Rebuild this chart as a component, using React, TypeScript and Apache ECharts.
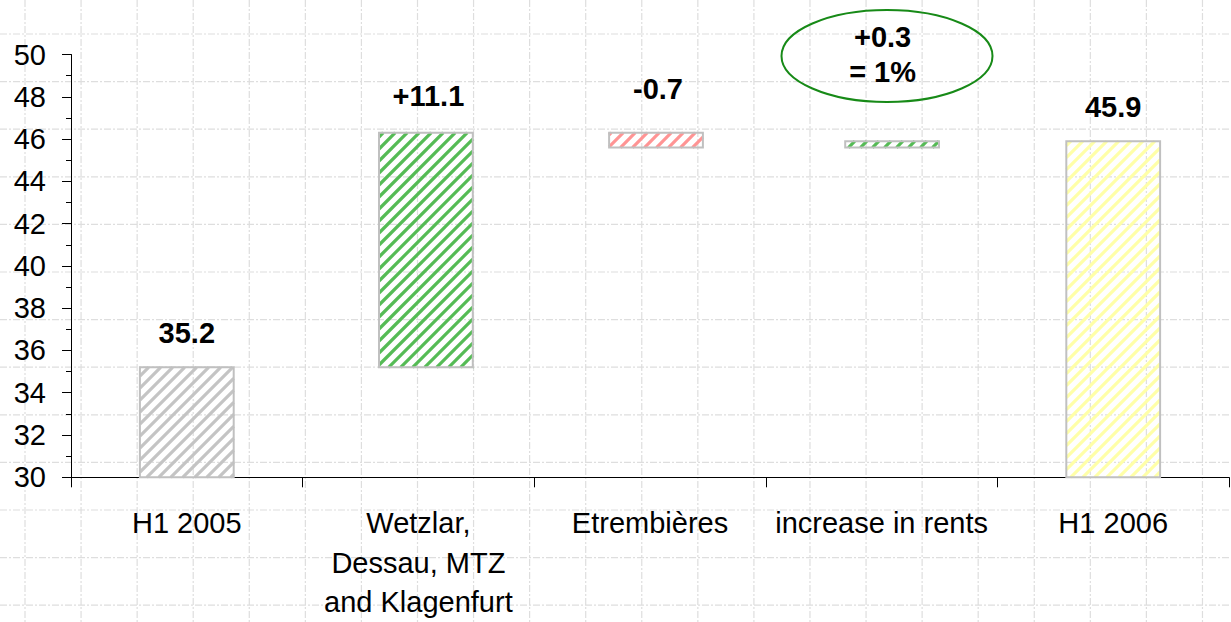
import React, { useEffect, useRef } from 'react';
import * as echarts from 'echarts';

const categories = ['H1 2005', 'Wetzlar,\nDessau, MTZ\nand Klagenfurt', 'Etrembières', 'increase in rents', 'H1 2006'];
const baseValues = [0, 35.2, 45.6, 45.6, 0];
const deltaValues = [35.2, 11.1, 0.7, 0.3, 45.9];
const labelTexts = ['35.2', '+11.1', '-0.7', '+0.3\n= 1%', '45.9'];

// styles
const stripeColors = ['#c4c4c4', '#55bb55', '#ff9494', '#55bb55', '#ffffa8'];
const labelDistances = [17, 19, 26, 51.5, 17];
const barShift = [0, 7.5, 6, 10.5, 0];
const labelShift = [0, 10, 8, 1, 0];

const FONT = '"Liberation Sans", Arial, sans-serif';
const STRIPE_PERIOD = 12;
const STRIPE_WIDTH = 3.2;

export default function App() {
  const ref = useRef<HTMLDivElement>(null);
  useEffect(() => {
    if (!ref.current) return;
    const chart = echarts.init(ref.current, undefined, { renderer: 'svg' });

    const sheetLines: any[] = [];
    for (let k = 0; k < 23; k++) {
      const x = 25 + 56.07 * k;
      sheetLines.push({
        type: 'line', z: -10, silent: true,
        shape: { x1: x, y1: 0, x2: x, y2: 622 },
        style: { stroke: '#dedede', lineWidth: 1.2, lineDash: [7, 2, 2, 2] },
      });
    }
    for (let k = 0; k < 13; k++) {
      const y = 34 + 47.6 * k;
      sheetLines.push({
        type: 'line', z: -10, silent: true,
        shape: { x1: 0, y1: y, x2: 1231, y2: y },
        style: { stroke: '#dedede', lineWidth: 1.2, lineDash: [7, 2, 2, 2] },
      });
    }

    const barData = categories.map((c, i) => [i, baseValues[i], baseValues[i] + deltaValues[i]]);

    const renderItem = (params: any, api: any) => {
      const i = api.value(0);
      const lo = api.value(1);
      const hi = api.value(2);
      const cs = params.coordSys;
      const pHi = api.coord([i, hi]);
      const pLo = api.coord([i, lo]);
      const yHi = pHi[1];
      const yLo = Math.min(pLo[1], cs.y + cs.height);
      const w = api.size([1, 0])[0] * 0.405;
      const cx = pHi[0] + barShift[i];
      const x0 = cx - w / 2;
      const x1 = cx + w / 2;
      const children: any[] = [];
      const cStart = Math.ceil((x0 + yHi) / STRIPE_PERIOD) * STRIPE_PERIOD;
      for (let c = cStart; c <= x1 + yLo; c += STRIPE_PERIOD) {
        const xa = Math.max(x0, c - yLo);
        const xb = Math.min(x1, c - yHi);
        if (xb > xa) {
          children.push({
            type: 'line',
            shape: { x1: xa, y1: c - xa, x2: xb, y2: c - xb },
            style: { stroke: stripeColors[i], lineWidth: STRIPE_WIDTH },
          });
        }
      }
      children.push({
        type: 'rect',
        shape: { x: x0, y: yHi, width: w, height: yLo - yHi },
        style: { fill: 'none', stroke: '#c0c0c0', lineWidth: 2 },
      });
      children.push({
        type: 'text',
        style: {
          text: labelTexts[i],
          x: pHi[0] + labelShift[i],
          y: yHi - labelDistances[i],
          align: 'center',
          verticalAlign: 'bottom',
          fontSize: 29,
          fontWeight: 'bold',
          fontFamily: FONT,
          lineHeight: 35,
          fill: '#000',
        },
      });
      return { type: 'group', children };
    };

    chart.setOption({
      animation: false,
      backgroundColor: '#ffffff',
      grid: { left: 71, right: 2, top: 54.5, bottom: 144.7, containLabel: false },
      xAxis: {
        type: 'category',
        data: categories,
        axisLine: { show: true, lineStyle: { color: '#000', width: 1 } },
        axisTick: { show: true, length: 10, interval: 0, lineStyle: { color: '#000' } },
        axisLabel: {
          interval: 0, margin: 26, fontSize: 29, lineHeight: 39.5,
          color: '#000', fontFamily: FONT,
        },
        splitLine: { show: false },
      },
      yAxis: {
        type: 'value',
        min: 30, max: 50, interval: 2,
        axisLine: { show: true, lineStyle: { color: '#000', width: 1 } },
        axisTick: { show: true, length: 9, lineStyle: { color: '#000' } },
        minorTick: { show: true, splitNumber: 2, length: 5, lineStyle: { color: '#000' } },
        axisLabel: { margin: 25, fontSize: 29, color: '#000', fontFamily: FONT },
        splitLine: { show: false },
        minorSplitLine: { show: false },
      },
      graphic: [
        ...sheetLines,
        {
          type: 'ellipse', z: 10, silent: true,
          shape: { cx: 887, cy: 56, rx: 105.5, ry: 46 },
          style: { fill: 'none', stroke: '#178a17', lineWidth: 2 },
        },
      ],
      series: [
        {
          type: 'custom',
          renderItem,
          encode: { x: 0, y: [1, 2] },
          data: barData,
          clip: false,
        },
      ],
    });
    return () => chart.dispose();
  }, []);
  return <div ref={ref} style={{ position: 'fixed', left: 0, top: 0, width: 1231, height: 622 }} />;
}
